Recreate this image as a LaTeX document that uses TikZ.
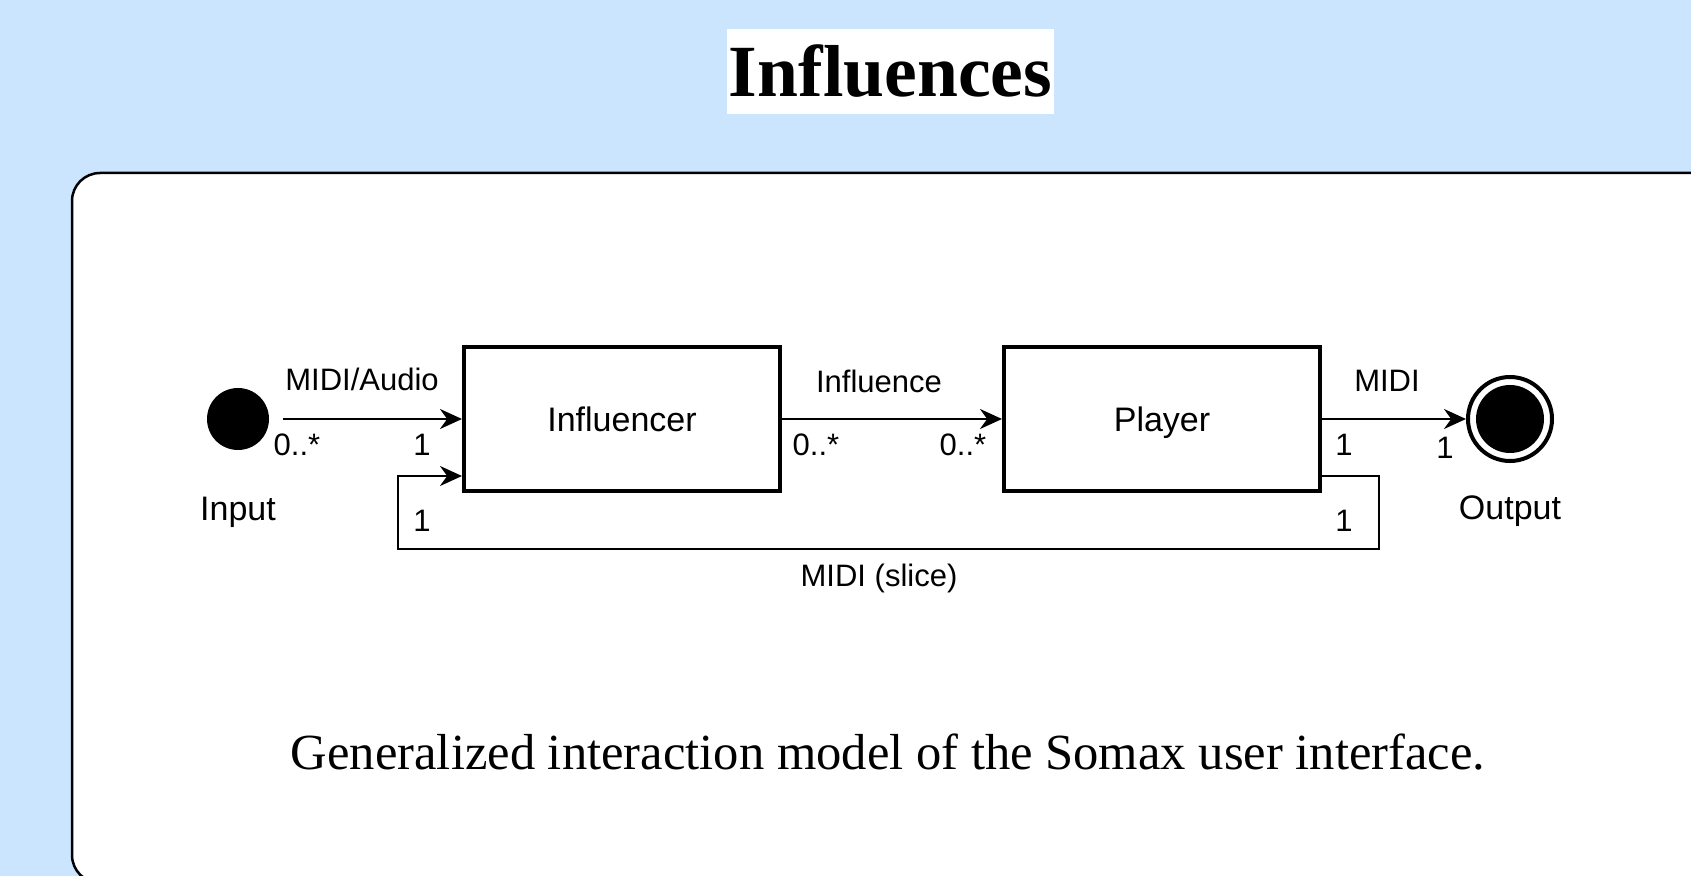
\documentclass[tikz,border=0pt]{standalone}
\usepackage{fontspec}
\setmainfont{Liberation Serif}
\setsansfont{Liberation Sans}
\usetikzlibrary{arrows.meta, positioning}
\definecolor{pagebg}{RGB}{204,229,255}

\begin{document}
\begin{tikzpicture}[x=0.5pt, y=-0.5pt, every node/.style={font=\sffamily}]

% Define styles for the interaction model
\tikzstyle{block} = [rectangle, draw=black, line width=2pt, minimum width=158pt, minimum height=72pt, text centered, text depth=0pt, font=\sffamily\fontsize{17}{20}\selectfont]
\tikzstyle{startstate} = [circle, fill=black, minimum size=31pt, inner sep=0pt]
\tikzstyle{endstate} = [circle, draw=black, line width=2pt, minimum size=42pt, inner sep=0pt, path picture={\fill[black] (path picture bounding box.center) circle (17pt);}]
\tikzstyle{statelabel} = [inner sep=0pt, font=\sffamily\fontsize{17}{20}\selectfont]
\tikzstyle{lbl} = [inner sep=0pt, font=\sffamily\fontsize{15.5}{18}\selectfont]
\tikzstyle{arrow} = [line width=1.2pt, -{Stealth[length=11pt, width=10pt]}]
\tikzstyle{loopline} = [line width=1pt, -{Stealth[length=11pt, width=10pt]}]

% Page and card
\useasboundingbox (0,0) rectangle (1691,876);
\clip (0,0) rectangle (1691,876);
\fill [pagebg] (0,0) rectangle (1691,876);
\draw [fill=white, line width=1.25pt, rounded corners=14pt] (72,173) rectangle (1760,883);

% Title and caption
\node (title) [fill=white, inner sep=0pt, minimum width=163.5pt, minimum height=42.5pt, font=\rmfamily\bfseries\fontsize{36.8}{40}\selectfont] at (890.5,71.5) {Influences};
\node (caption) [inner sep=0pt, font=\rmfamily\fontsize{25.3}{30}\selectfont] at (888,752) {Generalized interaction model of the Somax user interface.};

% Nodes
\node (input) [startstate] at (238,419) {};
\node (influencer) [block] at (622,419) {Influencer};
\node (player) [block] at (1162,419) {Player};
\node (output) [endstate] at (1510,419) {};
\node (inputlabel) [statelabel, below=23pt of input] {Input};
\node (outputlabel) [statelabel, below=16pt of output] {Output};

% Labels
\node (midiaudio) [lbl] at (362,379) {MIDI/Audio};
\node (influence) [lbl] at (879,381) {Influence};
\node (midi) [lbl] at (1387,381) {MIDI};
\node (slice) [lbl] at (879,578) {MIDI (slice)};
\node (m1) [lbl] at (297,445) {0..*};
\node (m2) [lbl] at (422,445) {1};
\node (m3) [lbl] at (816,445) {0..*};
\node (m4) [lbl] at (963,445) {0..*};
\node (m5) [lbl] at (1344,445) {1};
\node (m6) [lbl] at (1445,448) {1};
\node (m7) [lbl] at (1344,521) {1};
\node (m8) [lbl] at (422,521) {1};

% Arrows
\draw [arrow, shorten <=7pt] (input) -- (influencer);
\draw [arrow] (influencer) -- (player);
\draw [arrow] (player) -- (output);
\draw [loopline] ([yshift=8.5pt]player.south east) -- ++(57,0) -- ++(0,73) -| ([xshift=-32pt, yshift=8.5pt]influencer.south west) -- ([yshift=8.5pt]influencer.south west);

\end{tikzpicture}
\end{document}
